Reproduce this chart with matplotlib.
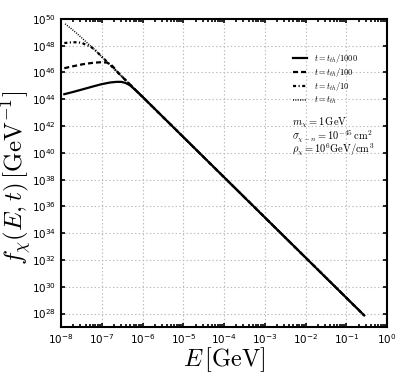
import numpy as np
import matplotlib
matplotlib.use('Agg')
import matplotlib.pyplot as plt
from matplotlib.ticker import LogLocator, NullLocator

# log10(E / GeV) and log10(f / GeV^-1)
tail_logE = [-6.0, -5.0, -4.0, -3.0, -2.0, -1.0, -0.56]
tail_logf = [44.18, 41.18, 38.18, 35.18, 32.18, 29.18, 27.86]

t1000_logE = [-7.92, -7.7, -7.46, -7.2, -7.0, -6.8, -6.64, -6.52, -6.42,
              -6.31, -6.2, -6.1]
t1000_logf = [44.38, 44.55, 44.75, 44.97, 45.13, 45.25, 45.3, 45.3, 45.22,
              45.05, 44.75, 44.47]

t100_logE = [-7.92, -7.7, -7.46, -7.2, -7.0, -6.88, -6.78, -6.7, -6.6,
             -6.5, -6.4, -6.3, -6.15]
t100_logf = [46.32, 46.47, 46.62, 46.73, 46.77, 46.74, 46.6, 46.35, 45.98,
             45.68, 45.38, 45.08, 44.63]

t10_logE = [-7.92, -7.75, -7.6, -7.48, -7.38, -7.28, -7.15, -7.0, -6.8,
            -6.6, -6.4, -6.2]
t10_logf = [48.2, 48.25, 48.26, 48.2, 48.05, 47.95, 47.63, 47.18, 46.58,
            45.98, 45.38, 44.78]

tth_logE = [-7.9, -7.75, -7.6, -7.45, -7.3, -7.2, -7.0, -6.8, -6.6,
            -6.4, -6.2]
tth_logf = [49.63, 49.27, 48.88, 48.47, 48.05, 47.77, 47.18, 46.58, 45.98,
            45.38, 44.78]

labels = [r'$t=t_{th}/1000$', r'$t=t_{th}/100$', r'$t=t_{th}/10$',
          r'$t=t_{th}$']
params = [r'$m_\chi=1\,\mathrm{GeV}$',
          r'$\sigma_{\chi-n}=10^{-45}\,\mathrm{cm}^2$',
          r'$\rho_\chi=10^6\mathrm{GeV/cm}^3$']

plt.rcParams['mathtext.fontset'] = 'cm'
plt.rcParams['font.family'] = 'DejaVu Sans'
plt.rcParams['lines.scale_dashes'] = False

fig = plt.figure(figsize=(4.07, 3.86), dpi=100)
ax = fig.add_axes([0.150, 0.153, 0.801, 0.798])

curves = [
    (t1000_logE, t1000_logf, dict(linestyle='-', lw=1.6)),
    (t100_logE, t100_logf, dict(linestyle=(0, (3.6, 2.2)), lw=1.6)),
    (t10_logE, t10_logf, dict(linestyle=(0, (2.2, 1.8, 0.8, 1.8)), lw=1.6)),
    (tth_logE, tth_logf, dict(linestyle=(0, (0.7, 1.0)), lw=1.1)),
]
for (lx, lf, style), lab in zip(curves, labels):
    # low-energy part of each curve joins the common E^-3 tail
    x = 10.0 ** np.array(lx + tail_logE)
    y = 10.0 ** np.array(lf + tail_logf)
    ax.plot(x, y, color='k', label=lab, **style)

ax.set_xscale('log')
ax.set_yscale('log')
ax.set_xlim(1e-8, 1)
ax.set_ylim(1e27, 1e50)
ax.yaxis.set_major_locator(LogLocator(base=100.0, numticks=30))
ax.yaxis.set_minor_locator(NullLocator())
ax.xaxis.set_major_locator(LogLocator(base=10.0, numticks=20))
ax.xaxis.set_minor_locator(LogLocator(base=10.0, subs=np.arange(2, 10),
                                      numticks=20))

ax.grid(True, which='major', color='#bbbbbb', linestyle=':', linewidth=0.8)
ax.tick_params(which='both', direction='in', top=True, right=True,
               width=1.2, labelsize=7.5)
ax.tick_params(which='major', length=3)
ax.tick_params(which='minor', length=2)
for sp in ax.spines.values():
    sp.set_linewidth(1.5)

ax.set_xlabel(r'$E\,[\mathrm{GeV}]$', fontsize=17.5, labelpad=0)
ax.set_ylabel(r'$f_\chi(E,t)\,[\mathrm{GeV}^{-1}]$', fontsize=18,
              va='center')
ax.yaxis.set_label_coords(-0.135, 0.485)

ax.legend(loc='upper left', bbox_to_anchor=(0.69, 0.918), frameon=False,
          fontsize=6, handlelength=1.6, handletextpad=0.9, labelspacing=0.15)

for i, txt in enumerate(params):
    ax.text(0.709, 0.662 - 0.0435 * i, txt, transform=ax.transAxes,
            fontsize=7.5, va='center', ha='left')

fig.savefig('out.png', dpi=100)
